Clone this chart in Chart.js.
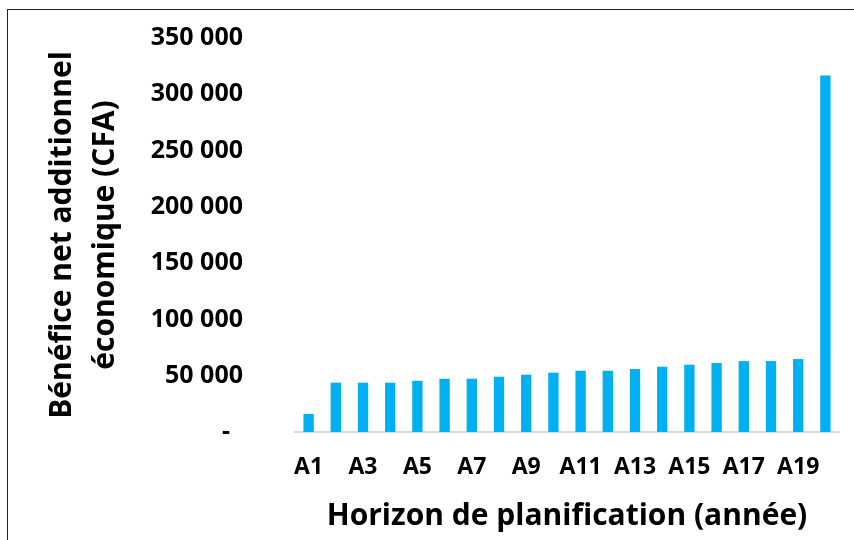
<!DOCTYPE html>
<html>
<head>
<meta charset="utf-8">
<script src="https://cdn.jsdelivr.net/npm/chart.js@4/dist/chart.umd.min.js"></script>
<style>
  html, body { margin: 0; padding: 0; background: #fff; }
  #wrap { position: relative; width: 854px; height: 540px; overflow: hidden; }
  #frame { position: absolute; left: 7px; top: 9px; width: 850px; height: 540px; border: 1px solid #222; box-sizing: border-box; }
  canvas { position: absolute; left: 0; top: 0; }
</style>
</head>
<body>
<div id="wrap">
  <div id="frame"></div>
  <canvas id="barChart" width="854" height="540"></canvas>
</div>
<script>
var years = ['A1', 'A2', 'A3', 'A4', 'A5', 'A6', 'A7', 'A8', 'A9', 'A10',
             'A11', 'A12', 'A13', 'A14', 'A15', 'A16', 'A17', 'A18', 'A19', 'A20'];
var benefit = [16000, 43800, 43800, 43800, 45500, 47300, 47300, 49100, 50900, 52700,
               54400, 54400, 55900, 58000, 59800, 61300, 63000, 63000, 64800, 316700];
var yTicks = [0, 50000, 100000, 150000, 200000, 250000, 300000, 350000];

document.addEventListener('DOMContentLoaded', function () {
    var ctx = document.getElementById('barChart').getContext('2d');
    Chart.defaults.font.family = '"Open Sans", "DejaVu Sans", sans-serif';
    Chart.defaults.color = '#000';

    function formatTick(v) {
        if (v === 0) return '-  ';
        return String(v).replace(/\B(?=(\d{3})+(?!\d))/g, ' ');
    }

    new Chart(ctx, {
        type: 'bar',
        data: {
            labels: years,
            datasets: [{
                data: benefit,
                backgroundColor: '#00B0F0',
                borderWidth: 0,
                barPercentage: 0.76,
                categoryPercentage: 0.5
            }]
        },
        options: {
            responsive: false,
            animation: false,
            layout: { padding: { left: 41, top: 38, right: 15, bottom: 6 } },
            plugins: { legend: { display: false }, tooltip: { enabled: false } },
            scales: {
                x: {
                    grid: { display: false, drawTicks: false },
                    border: { display: true, color: '#d9d9d9', width: 2 },
                    afterFit: function (scale) { scale.height = 102; },
                    ticks: {
                        autoSkip: false,
                        maxRotation: 0,
                        padding: 22,
                        font: { size: 23, weight: 'bold' },
                        callback: function (v, i) { return i % 2 === 0 ? years[i] : ''; }
                    },
                    title: {
                        display: true,
                        text: 'Horizon de planification (année)',
                        font: { size: 30, weight: 'bold' },
                        padding: 0
                    }
                },
                y: {
                    min: 0,
                    max: 350000,
                    grid: { display: false, drawTicks: true, tickLength: 45 },
                    border: { display: false },
                    afterBuildTicks: function (scale) {
                        scale.ticks = yTicks.map(function (v) { return { value: v }; });
                    },
                    afterFit: function (scale) { scale.width = 254; },
                    ticks: {
                        padding: 7,
                        font: { size: 25, weight: 'bold' },
                        callback: formatTick
                    },
                    title: {
                        display: true,
                        text: ['Bénéfice net additionnel', 'économique (CFA)'],
                        font: { size: 30, weight: 'bold', lineHeight: 1.43 },
                        padding: 0
                    }
                }
            }
        }
    });
});
</script>
</body>
</html>
